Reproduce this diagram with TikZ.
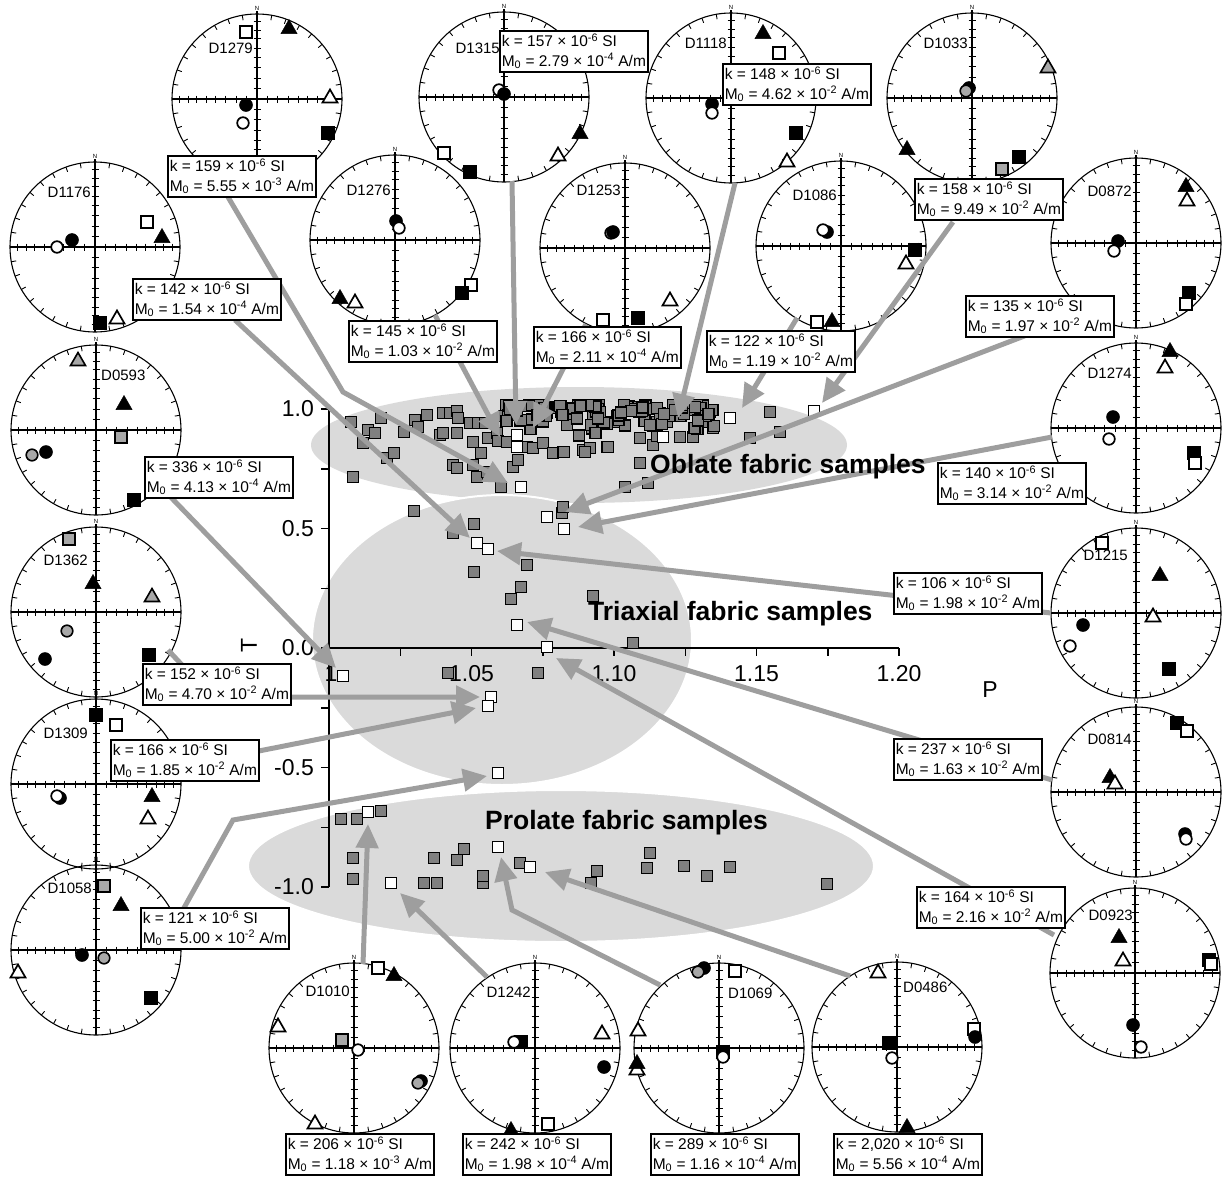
\documentclass[tikz,border=0pt]{standalone}
\usepackage{fontspec}
\setmainfont{Liberation Sans}
\usetikzlibrary{arrows.meta}
\definecolor{ellgray}{HTML}{DADADA}
\definecolor{ptgray}{HTML}{808080}
\definecolor{symgray}{HTML}{A8A8A8}
\definecolor{arrgray}{HTML}{9E9E9E}

\newcommand\sFS[2]{\filldraw[black,line width=0.5pt] (#1,#2) ++(-6.5,-6.5) rectangle ++(13,13);}
\newcommand\sOS[2]{\filldraw[fill=white,draw=black,line width=1.7pt] (#1,#2) ++(-6,-6) rectangle ++(12,12);}
\newcommand\sGS[2]{\filldraw[fill=symgray,draw=black,line width=1.6pt] (#1,#2) ++(-6,-6) rectangle ++(12,12);}
\newcommand\sFT[2]{\filldraw[black,line width=0.5pt,line join=miter] (#1,#2) ++(0,-8.5) -- ++(8,14) -- ++(-16,0) -- cycle;}
\newcommand\sOT[2]{\filldraw[fill=white,draw=black,line width=1.7pt,line join=miter] (#1,#2) ++(0,-7.5) -- ++(7.5,13) -- ++(-15,0) -- cycle;}
\newcommand\sGT[2]{\filldraw[fill=symgray,draw=black,line width=1.6pt,line join=miter] (#1,#2) ++(0,-7.5) -- ++(7.5,13) -- ++(-15,0) -- cycle;}
\newcommand\sFC[2]{\filldraw[black,line width=0.5pt] (#1,#2) circle[radius=6.5pt];}
\newcommand\sOC[2]{\filldraw[fill=white,draw=black,line width=1.7pt] (#1,#2) circle[radius=5.8pt];}
\newcommand\sGC[2]{\filldraw[fill=symgray,draw=black,line width=1.6pt] (#1,#2) circle[radius=5.8pt];}
\newcommand\ptG[2]{\filldraw[fill=ptgray,draw=black,line width=1.3pt] (#1,#2) ++(-5.5,-5.5) rectangle ++(11,11);}
\newcommand\syms[3]{\begin{scope}[shift={(#1,#2)}]#3\end{scope}}

% #1 name, #2 x, #3 y, #4 label, #5 anchor, #6 #7 label offset
\newcommand\stnet[7]{%
  \begin{scope}[shift={(#2,#3)}]
    \draw[line width=1.1pt] (0,0) circle[radius=85pt];
    \draw[line width=1.1pt] (-85,0) -- (85,0) (0,-88) -- (0,85);
    \foreach \ang in {0,10,...,350}{\draw[line width=0.9pt] (\ang:85pt) -- (\ang:80pt);}
    \foreach \sr in {10.5,20.9,31.1,41.1,50.9,60.1,68.9,77.2}{%
      \draw[line width=0.9pt] (\sr,-3.5) -- (\sr,3.5) (-\sr,-3.5) -- (-\sr,3.5)
        (-3.5,\sr) -- (3.5,\sr) (-3.5,-\sr) -- (3.5,-\sr);}
    \node[font=\fontsize{6}{6}\selectfont,inner sep=0pt] (#1N) at (0,-91) {N};
    \node[font=\fontsize{15}{15}\selectfont,inner sep=0pt,anchor=#5] (#1L) at (#6,#7) {#4};
  \end{scope}
  \coordinate (#1) at (#2,#3);}

\newcommand\kval[3]{k = #1 × 10\textsuperscript{-6} SI\\M\textsubscript{0} = #2 × 10\textsuperscript{#3} A/m}

\begin{document}
\begin{tikzpicture}[x=1pt,y=-1pt,
  kbox/.style={draw=black, line width=1.5pt, fill=white, align=left, anchor=north west,
    inner xsep=2pt, inner ysep=3pt, font=\fontsize{15.5}{19.5}\selectfont},
  lnk/.style={draw=arrgray, line width=5pt},
  arr/.style={lnk, -{Triangle[length=24pt,width=22pt]}},
  axl/.style={font=\fontsize{23}{23}\selectfont, inner sep=0pt},
  fab/.style={font=\bfseries\fontsize{26.5}{26.5}\selectfont, inner sep=0pt, anchor=west},
  axisl/.style={line width=1.5pt}]
\useasboundingbox (0,0) rectangle (1224,1178);

% ---------- fabric fields ----------
\fill[ellgray] (579,445) ellipse[x radius=268pt, y radius=58pt];
\filldraw[fill=ellgray,draw=white,line width=2pt] (502,640) ellipse[x radius=190pt, y radius=145pt];
\filldraw[fill=ellgray,draw=white,line width=2pt] (561,866) ellipse[x radius=313pt, y radius=76pt];

% ---------- axes ----------
\draw[axisl] (329,409) -- (329,887);
\draw[axisl] (329,648) -- (899,648);
\foreach \t in {0,1,...,8}{\draw[axisl] (329,409+59.75*\t) -- (321,409+59.75*\t);}
\foreach \i in {1,...,8}{\draw[axisl] (329+71.25*\i,648) -- (329+71.25*\i,656);}
\node[axl,anchor=east] (ty1) at (314,409) {1.0};
\node[axl,anchor=east] (ty2) at (314,528.5) {0.5};
\node[axl,anchor=east] (ty3) at (314,648) {0.0};
\node[axl,anchor=east] (ty4) at (314,767.5) {-0.5};
\node[axl,anchor=east] (ty5) at (314,887) {-1.0};
\node[axl] (px1) at (331,674) {1};
\node[axl] (px2) at (471.5,674) {1.05};
\node[axl] (px3) at (614,674) {1.10};
\node[axl] (px4) at (756.5,674) {1.15};
\node[axl] (px5) at (899,674) {1.20};
\node[axl,rotate=90] (tlab) at (249,645) {T};
\node[axl] (plab) at (990,690) {P};

% ---------- data points ----------
\foreach \p in {(351,422),(381,418),(368,430),(375,433),(363,443),(387,458),(394,453),(353,477),
  (404,432),(415,420),(418,427),(427,415),(443,413),(450,413),(457,411),(458,418),(440,435),(443,433),
  (457,433),(470,423),(478,423),(485,423),(473,442),(481,453),(453,465),(457,468),(473,465),(477,477),
  (487,472),(501,487),(488,438),(497,433),(498,441),(507,442),(513,467),(518,460),(510,412),(527,447),
  (533,448),(543,443),(553,453),(563,452),(583,450),(590,448),(607,447),(680,437),(693,437),(710,412),
  (707,422),(640,463),(648,483),(625,487),(770,412),(750,438),(780,432),(653,445),(640,438),(585,452),
  (564,452),(608,447)}{\filldraw[fill=ptgray,draw=black,line width=1.3pt] \p ++(-5.5,-5.5) rectangle ++(11,11);}
\pgfmathsetseed{4242}
\foreach \i in {1,...,115}{%
  \pgfmathsetmacro\xq{503+212*rnd}
  \pgfmathsetmacro\yq{405+34*rnd*rnd}
  \ptG{\xq}{\yq}}
\foreach \p in {(414,511),(474,524),(453,533),(474,572),(527,565),(521,587),(511,599),(593,596),
  (633,643),(562,513),(563,507),(448,673),(538,673),
  (341,819),(357,819),(381,811),(353,858),(353,879),(424,883),(437,883),(434,858),(457,860),(464,849),
  (483,883),(483,876),(520,863),(597,871),(591,883),(650,853),(647,868),(684,866),(707,876),(730,867),(827,884)}
  {\filldraw[fill=ptgray,draw=black,line width=1.3pt] \p ++(-5.5,-5.5) rectangle ++(11,11);}
\foreach \p in {(517,435),(517,447),(521,487),(663,437),(730,418),(814,411),
  (477,543),(488,549),(547,517),(564,529),(517,625),(547,647),(343,676),(491,697),(488,706),(498,773),
  (368,812),(391,883),(498,847),(530,867)}
  {\filldraw[fill=white,draw=black,line width=1.5pt] \p ++(-5.5,-5.5) rectangle ++(11,11);}

% ---------- stereonets ----------
\stnet{d1279}{257}{99}{D1279}{east}{-4}{-51}
\syms{257}{99}{\sOS{-11}{-67}\sFT{32}{-71}\sOT{73}{-2}\sFC{-11}{6}\sOC{-14}{24}\sFS{71}{34}}
\stnet{d1315}{504}{97}{D1315}{east}{-4}{-49}
\syms{504}{97}{\sOC{-5}{-7}\sFC{0}{-3}\sFT{76}{36}\sOT{54}{58}\sOS{-60}{56}\sFS{-34}{75}}
\stnet{d1118}{731}{98}{D1118}{east}{-4}{-55}
\syms{731}{98}{\sFT{32}{-65}\sOS{48}{-45}\sFC{-19}{6}\sOC{-19}{15}\sFS{65}{35}\sOT{56}{63}}
\stnet{d1033}{972}{98}{D1033}{east}{-4}{-55}
\syms{972}{98}{\sGT{76}{-31}\sFC{-3}{-10}\sGC{-6}{-7}\sFT{-65}{51}\sFS{47}{59}\sGS{30}{71}}
\stnet{d1176}{95}{247}{D1176}{east}{-4}{-55}
\syms{95}{247}{\sOC{-38}{0}\sFC{-23}{-7}\sOS{52}{-25}\sFT{67}{-10}\sFS{5}{76}\sOT{22}{71}}
\stnet{d1276}{395}{240}{D1276}{east}{-4}{-50}
\syms{395}{240}{\sFC{1}{-19}\sOC{4}{-12}\sOS{76}{45}\sFS{67}{53}\sFT{-55}{58}\sOT{-40}{62}}
\stnet{d1253}{625}{248}{D1253}{east}{-4}{-58}
\syms{625}{248}{\sOC{-14}{-15}\sFC{-12}{-16}\sOT{45}{52}\sOS{-22}{72}\sFS{13}{70}}
\stnet{d1086}{841}{246}{D1086}{east}{-4}{-51}
\syms{841}{246}{\sFC{-14}{-14}\sOC{-18}{-16}\sFS{74}{4}\sOT{65}{17}\sOS{-24}{76}\sFT{-9}{75}}
\stnet{d0872}{1136}{243}{D0872}{east}{-4}{-52}
\syms{1136}{243}{\sFT{50}{-57}\sOT{51}{-43}\sFC{-18}{-2}\sOC{-22}{8}\sFS{53}{50}\sOS{50}{61}}
\stnet{d0593}{96}{430}{D0593}{west}{5}{-55}
\syms{96}{430}{\sGT{-18}{-70}\sFT{28}{-26}\sGS{25}{7}\sGC{-64}{25}\sFC{-50}{22}\sFS{38}{70}}
\stnet{d1274}{1136}{428}{D1274}{east}{-4}{-55}
\syms{1136}{428}{\sFT{34}{-77}\sOT{29}{-61}\sFC{-23}{-11}\sOC{-27}{11}\sFS{58}{25}\sOS{59}{35}}
\stnet{d1362}{96}{612}{D1362}{east}{-8}{-52}
\syms{96}{612}{\sGS{-27}{-73}\sFT{-3}{-29}\sGT{56}{-16}\sGC{-29}{19}\sFC{-51}{47}\sFS{53}{43}}
\stnet{d1215}{1136}{613}{D1215}{east}{-8}{-58}
\syms{1136}{613}{\sOS{-34}{-70}\sFT{24}{-38}\sOT{17}{3}\sFC{-53}{12}\sOC{-66}{33}\sFS{33}{56}}
\stnet{d1309}{96}{784}{D1309}{east}{-8}{-51}
\syms{96}{784}{\sFS{0}{-69}\sOS{20}{-59}\sFC{-36}{14}\sOC{-39}{12}\sFT{56}{12}\sOT{52}{34}}
\stnet{d0814}{1136}{792}{D0814}{east}{-4}{-53}
\syms{1136}{792}{\sFS{41}{-69}\sOS{51}{-61}\sFT{-26}{-15}\sOT{-21}{-9}\sFC{49}{42}\sOC{50}{47}}
\stnet{d1058}{96}{950}{D1058}{east}{-4}{-62}
\syms{96}{950}{\sGS{8}{-64}\sFT{25}{-45}\sOT{-78}{22}\sFC{-14}{5}\sGC{8}{8}\sFS{55}{48}}
\stnet{d0923}{1135}{973}{D0923}{east}{-2}{-58}
\syms{1135}{973}{\sFT{-16}{-36}\sOT{-12}{-13}\sFS{74}{-13}\sOS{76}{-9}\sFC{-2}{52}\sOC{6}{74}}
\stnet{d1010}{354}{1048}{D1010}{east}{-4}{-57}
\syms{354}{1048}{\sOS{24}{-80}\sFT{40}{-73}\sOT{-76}{-22}\sGS{-12}{-8}\sOC{4}{2}\sFC{67}{33}\sGC{64}{35}\sOT{-39}{75}}
\stnet{d1242}{535}{1048}{D1242}{east}{-4}{-56}
\syms{535}{1048}{\sFS{-14}{-6}\sOC{-21}{-6}\sOT{67}{-15}\sFC{69}{19}\sFT{-24}{82}\sOS{13}{76}}
\stnet{d1069}{719}{1048}{D1069}{west}{9}{-55}
\syms{719}{1048}{\sFC{-15}{-80}\sGC{-21}{-76}\sOS{16}{-77}\sOT{-81}{-18}\sOT{-82}{21}\sFT{-82}{15}\sFS{4}{4}\sOC{4}{9}}
\stnet{d0486}{897}{1047}{D0486}{west}{6}{-60}
\syms{897}{1047}{\sOT{-19}{-75}\sOS{77}{-18}\sFC{78}{-10}\sFS{-8}{-4}\sOC{-5}{11}\sFT{10}{80}}

% ---------- connectors ----------
\coordinate (s1) at (228,197); \coordinate (m1) at (343,392); \coordinate (e1) at (508,483);
\coordinate (s2) at (235,320); \coordinate (e2) at (470,538);
\coordinate (s3) at (435,315); \coordinate (e3) at (500,437);
\coordinate (s4) at (512,181); \coordinate (e4) at (516,425);
\coordinate (s5) at (586,324); \coordinate (e5) at (533,428);
\coordinate (s6) at (735,183); \coordinate (e6) at (678,418);
\coordinate (s7) at (797,318); \coordinate (e7) at (742,408);
\coordinate (s8) at (953,222); \coordinate (e8) at (822,403);
\coordinate (s9) at (1040,330); \coordinate (e9) at (565,512);
\coordinate (s10) at (1052,437); \coordinate (e10) at (578,527);
\coordinate (s11) at (1051,613); \coordinate (e11) at (497,551);
\coordinate (s12) at (1052,780); \coordinate (e12) at (527,622);
\coordinate (s13) at (1054,935); \coordinate (e13) at (556,658);
\coordinate (s14) at (160,486); \coordinate (e14) at (336,668);
\coordinate (s15) at (168,650); \coordinate (m15) at (212,697); \coordinate (e15) at (480,697);
\coordinate (s16) at (178,767); \coordinate (e16) at (476,708);
\coordinate (s17) at (180,915); \coordinate (m17) at (233,820); \coordinate (e17) at (487,776);
\coordinate (s18) at (363,964); \coordinate (e18) at (368,824);
\coordinate (s19) at (487,977); \coordinate (e19) at (400,893);
\coordinate (s20) at (660,985); \coordinate (m20) at (512,910); \coordinate (e20) at (501,857);
\coordinate (s21) at (850,976); \coordinate (e21) at (545,872);
\draw[arr] (s1) -- (m1) -- (e1);
\foreach \n in {2,...,14}{\draw[arr] (s\n) -- (e\n);}
\draw[arr] (s15) -- (m15) -- (e15);
\draw[arr] (s16) -- (e16);
\draw[arr] (s17) -- (m17) -- (e17);
\draw[arr] (s18) -- (e18);
\draw[arr] (s19) -- (e19);
\draw[arr] (s20) -- (m20) -- (e20);
\draw[arr] (s21) -- (e21);

% ---------- value boxes ----------
\node[kbox] (k1279) at (167,155) {\kval{159}{5.55}{-3}};
\node[kbox] (k1315) at (499,30) {\kval{157}{2.79}{-4}};
\node[kbox] (k1118) at (722,63) {\kval{148}{4.62}{-2}};
\node[kbox] (k1033) at (914,178) {\kval{158}{9.49}{-2}};
\node[kbox] (k1176) at (132,278) {\kval{142}{1.54}{-4}};
\node[kbox] (k1276) at (348,320) {\kval{145}{1.03}{-2}};
\node[kbox] (k1253) at (533,326) {\kval{166}{2.11}{-4}};
\node[kbox] (k1086) at (706,330) {\kval{122}{1.19}{-2}};
\node[kbox] (k0872) at (965,295) {\kval{135}{1.97}{-2}};
\node[kbox] (k0593) at (144,456) {\kval{336}{4.13}{-4}};
\node[kbox] (k1274) at (937,462) {\kval{140}{3.14}{-2}};
\node[kbox] (k1362) at (142,663) {\kval{152}{4.70}{-2}};
\node[kbox] (k1215) at (893,572) {\kval{106}{1.98}{-2}};
\node[kbox] (k1309) at (110,739) {\kval{166}{1.85}{-2}};
\node[kbox] (k0814) at (893,738) {\kval{237}{1.63}{-2}};
\node[kbox] (k1058) at (140,907) {\kval{121}{5.00}{-2}};
\node[kbox] (k0923) at (916,886) {\kval{164}{2.16}{-2}};
\node[kbox] (k1010) at (285,1133) {\kval{206}{1.18}{-3}};
\node[kbox] (k1242) at (462,1133) {\kval{242}{1.98}{-4}};
\node[kbox] (k1069) at (650,1133) {\kval{289}{1.16}{-4}};
\node[kbox] (k0486) at (833,1133) {\kval{2,020}{5.56}{-4}};

% ---------- field labels ----------
\node[fab] (oblate) at (650,467) {Oblate fabric samples};
\node[fab] (triax) at (588,614) {Triaxial fabric samples};
\node[fab] (prolate) at (485,823) {Prolate fabric samples};
\end{tikzpicture}
\end{document}
